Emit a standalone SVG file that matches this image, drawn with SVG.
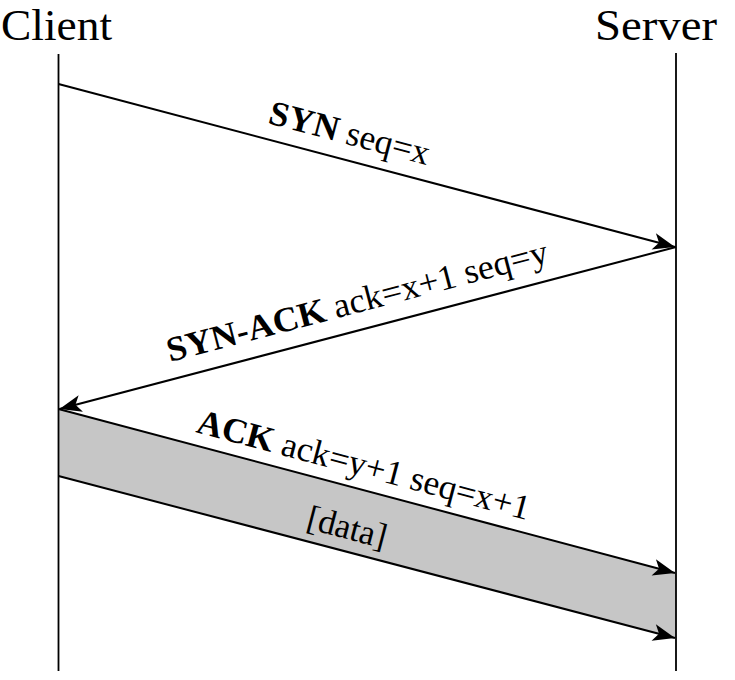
<svg xmlns="http://www.w3.org/2000/svg" width="735" height="680" viewBox="0 0 735 680">
<style>
text{font-family:"Liberation Serif","Times New Roman",serif;fill:#000}
.title{font-size:44.5px}
.lbl{font-size:35px}
.b{font-weight:bold}
.life{stroke:#000;stroke-width:1.8;fill:none}
.msg{stroke:#000;stroke-width:2;fill:none;marker-end:url(#ah)}
</style>
<defs>
<marker id="ah" markerUnits="userSpaceOnUse" viewBox="-23 -10 24 20" refX="0" refY="0" markerWidth="24" markerHeight="20" orient="auto">
<path d="M0,0 L-22,-8.5 L-16.5,0 L-22,8.5 Z" fill="#000"/>
</marker>
</defs>
<rect width="735" height="680" fill="#fff"/>
<g id="band">
<polygon points="58.5,409 676,573 676,638 58.5,476" fill="#c6c6c6"/>
</g>
<g id="client">
<text class="title" x="1" y="40" textLength="111" lengthAdjust="spacingAndGlyphs">Client</text>
<line class="life" x1="58.5" y1="54" x2="58.5" y2="671"/>
</g>
<g id="server">
<text class="title" x="595" y="40" textLength="122" lengthAdjust="spacingAndGlyphs">Server</text>
<line class="life" x1="676" y1="53" x2="676" y2="671"/>
</g>
<g id="connectors">
<line class="msg" x1="58.5" y1="84" x2="675" y2="247"/>
<line class="msg" x1="676" y1="247" x2="59.5" y2="409"/>
<line class="msg" x1="58.5" y1="409" x2="675" y2="573"/>
<line class="msg" x1="58.5" y1="476" x2="675" y2="638"/>
</g>
<g id="labels">
<text class="lbl" transform="translate(267,123) rotate(14.78)" textLength="165" lengthAdjust="spacingAndGlyphs"><tspan class="b">SYN</tspan> seq=x</text>
<text class="lbl" transform="translate(170,362) rotate(-14.7)" textLength="393" lengthAdjust="spacingAndGlyphs"><tspan class="b">SYN-ACK</tspan> ack=x+1 seq=y</text>
<text class="lbl" transform="translate(195,432) rotate(14.86)" textLength="343" lengthAdjust="spacingAndGlyphs"><tspan class="b">ACK</tspan> ack=y+1 seq=x+1</text>
<text class="lbl" transform="translate(305,528) rotate(14.7)" textLength="81" lengthAdjust="spacingAndGlyphs">[data]</text>
</g>
</svg>
